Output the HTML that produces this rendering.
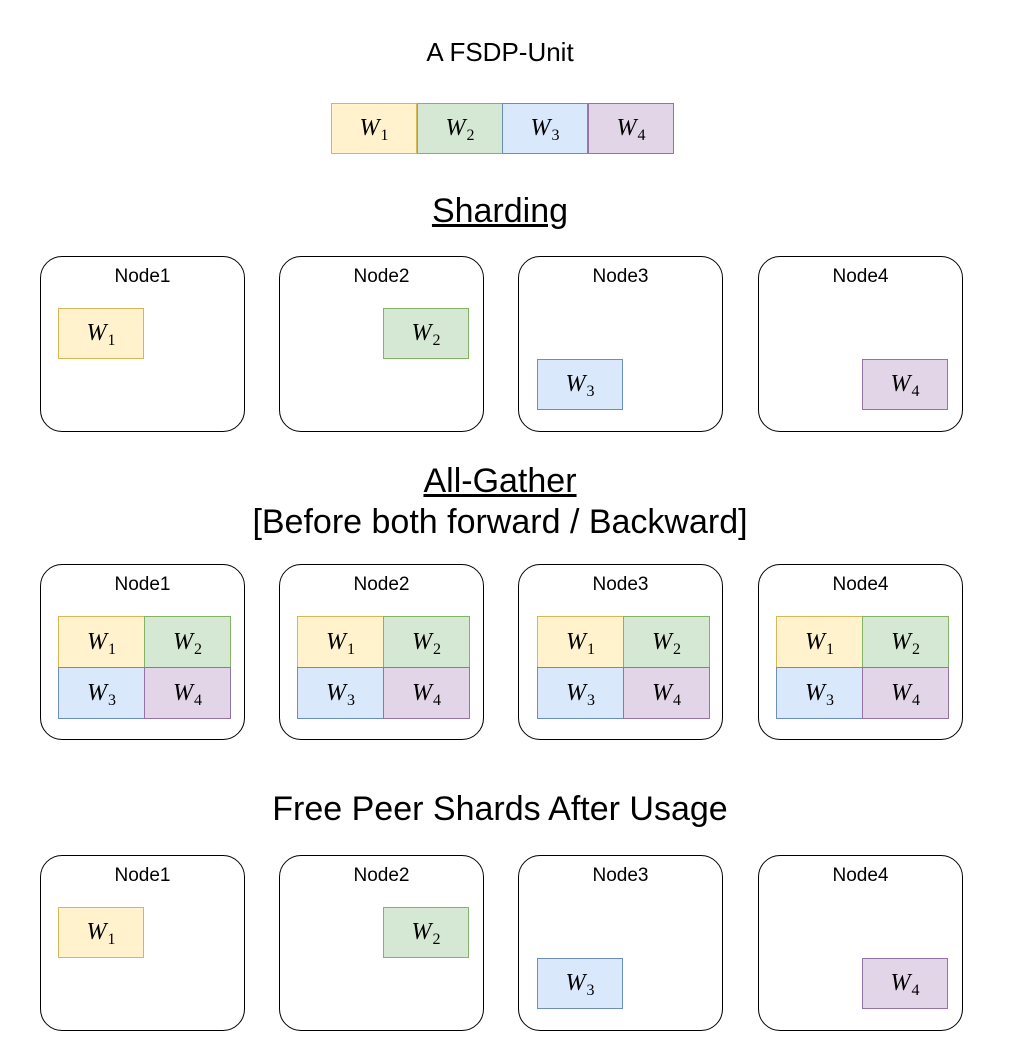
<!DOCTYPE html>
<html><head><style>
body{margin:0;width:1018px;height:1046px;background:#fff;position:relative;font-family:"Liberation Sans",sans-serif;overflow:hidden}
.t{position:absolute;left:0;width:1000px;text-align:center;color:#000;white-space:nowrap}
.n{position:absolute;width:203px;height:174px;border:1.5px solid #000;border-radius:22px;box-sizing:content-box}
.n span{position:absolute;top:9px;left:0;width:100%;text-align:center;font-size:19px}
.w{position:absolute;width:86px;height:51px;box-sizing:border-box;border:1.5px solid;display:flex;align-items:center;justify-content:center;font-family:"Liberation Serif",serif;font-size:24px}
.w i{font-style:italic}
.w sub{font-style:normal;font-size:16px;vertical-align:-5px;line-height:0;margin-left:1px}
.y{background:#fff2cc;border-color:#d6b656}.g{background:#d5e8d4;border-color:#82b366}.b{background:#dae8fc;border-color:#6c8ebf}.p{background:#e1d5e7;border-color:#9673a6}
</style></head><body>
<div class="t" style="top:37px;font-size:26px">A FSDP-Unit</div>
<div class="w y" style="left:331px;top:103px"><span><i>W</i><sub>1</sub></span></div>
<div class="w g" style="left:417px;top:103px"><span><i>W</i><sub>2</sub></span></div>
<div class="w b" style="left:502px;top:103px"><span><i>W</i><sub>3</sub></span></div>
<div class="w p" style="left:588px;top:103px"><span><i>W</i><sub>4</sub></span></div>
<div class="t" style="top:192px;font-size:34px;"><u>Sharding</u></div>

<div class="n" style="left:40px;top:256px"><span>Node1</span></div>
<div class="n" style="left:279px;top:256px"><span>Node2</span></div>
<div class="n" style="left:518px;top:256px"><span>Node3</span></div>
<div class="n" style="left:758px;top:256px"><span>Node4</span></div>
<div class="w y" style="left:58px;top:308px"><span><i>W</i><sub>1</sub></span></div>
<div class="w g" style="left:383px;top:308px"><span><i>W</i><sub>2</sub></span></div>
<div class="w b" style="left:537px;top:359px"><span><i>W</i><sub>3</sub></span></div>
<div class="w p" style="left:862px;top:359px"><span><i>W</i><sub>4</sub></span></div>

<div class="t" style="top:462px;font-size:34px"><u>All-Gather</u></div>
<div class="t" style="top:503px;font-size:34px">[Before both forward / Backward]</div>

<div class="n" style="left:40px;top:564px"><span>Node1</span></div>
<div class="n" style="left:279px;top:564px"><span>Node2</span></div>
<div class="n" style="left:518px;top:564px"><span>Node3</span></div>
<div class="n" style="left:758px;top:564px"><span>Node4</span></div>
<div class="w y" style="left:58px;top:616px;width:87px;height:52px"><span><i>W</i><sub>1</sub></span></div>
<div class="w g" style="left:144px;top:616px;width:87px;height:52px"><span><i>W</i><sub>2</sub></span></div>
<div class="w b" style="left:58px;top:667px;width:87px;height:52px"><span><i>W</i><sub>3</sub></span></div>
<div class="w p" style="left:144px;top:667px;width:87px;height:52px"><span><i>W</i><sub>4</sub></span></div>
<div class="w y" style="left:297px;top:616px;width:87px;height:52px"><span><i>W</i><sub>1</sub></span></div>
<div class="w g" style="left:383px;top:616px;width:87px;height:52px"><span><i>W</i><sub>2</sub></span></div>
<div class="w b" style="left:297px;top:667px;width:87px;height:52px"><span><i>W</i><sub>3</sub></span></div>
<div class="w p" style="left:383px;top:667px;width:87px;height:52px"><span><i>W</i><sub>4</sub></span></div>
<div class="w y" style="left:537px;top:616px;width:87px;height:52px"><span><i>W</i><sub>1</sub></span></div>
<div class="w g" style="left:623px;top:616px;width:87px;height:52px"><span><i>W</i><sub>2</sub></span></div>
<div class="w b" style="left:537px;top:667px;width:87px;height:52px"><span><i>W</i><sub>3</sub></span></div>
<div class="w p" style="left:623px;top:667px;width:87px;height:52px"><span><i>W</i><sub>4</sub></span></div>
<div class="w y" style="left:776px;top:616px;width:87px;height:52px"><span><i>W</i><sub>1</sub></span></div>
<div class="w g" style="left:862px;top:616px;width:87px;height:52px"><span><i>W</i><sub>2</sub></span></div>
<div class="w b" style="left:776px;top:667px;width:87px;height:52px"><span><i>W</i><sub>3</sub></span></div>
<div class="w p" style="left:862px;top:667px;width:87px;height:52px"><span><i>W</i><sub>4</sub></span></div>

<div class="t" style="top:790px;font-size:34px">Free Peer Shards After Usage</div>

<div class="n" style="left:40px;top:855px"><span>Node1</span></div>
<div class="n" style="left:279px;top:855px"><span>Node2</span></div>
<div class="n" style="left:518px;top:855px"><span>Node3</span></div>
<div class="n" style="left:758px;top:855px"><span>Node4</span></div>
<div class="w y" style="left:58px;top:907px"><span><i>W</i><sub>1</sub></span></div>
<div class="w g" style="left:383px;top:907px"><span><i>W</i><sub>2</sub></span></div>
<div class="w b" style="left:537px;top:958px"><span><i>W</i><sub>3</sub></span></div>
<div class="w p" style="left:862px;top:958px"><span><i>W</i><sub>4</sub></span></div>
</body></html>
